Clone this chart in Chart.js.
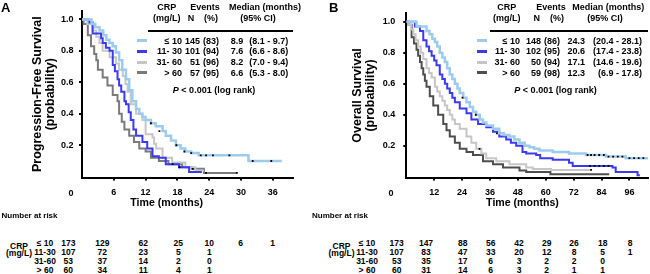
<!DOCTYPE html>
<html>
<head>
<meta charset="utf-8">
<script src="https://cdn.jsdelivr.net/npm/chart.js@4"></script>
<style>
body { margin:0; background:#fff; }
#page { position:relative; width:650px; height:274px; overflow:hidden; font-family:Arial, "Liberation Sans", sans-serif; font-weight:bold; color:#000; }
.t { position:absolute; white-space:nowrap; line-height:1; }
canvas { position:absolute; top:0; }
</style>
</head>
<body>
<div id="page">
<canvas id="_pfs" width="300" height="200" style="left:0"></canvas>
<canvas id="_os" width="330" height="200" style="left:320px"></canvas>
</div>
<script>
// groups / legend stats
var groups = ['≤ 10', '11- 30', '31- 60', '> 60'];
var riskGroups = ['≤ 10', '11-30', '31-60', '> 60'];
var colorsA = ['#9dcbef', '#3a3af2', '#c6c6c6', '#7a7a7a'];
var colorsB = ['#9dcbef', '#3a3af2', '#c6c6c6', '#4e4e4e'];

var pfsN = [145, 101, 51, 57];
var pfsPct = [83, 94, 96, 95];
var pfsMedian = ['8.9', '7.6', '8.2', '6.6'];
var pfsCI = ['(8.1 - 9.7)', '(6.6 - 8.6)', '(7.0 - 9.4)', '(5.3 - 8.0)'];
var osN = [148, 102, 50, 59];
var osPct = [86, 95, 94, 98];
var osMedian = ['24.3', '20.6', '17.1', '12.3'];
var osCI = ['(20.4 - 28.1)', '(17.4 - 23.8)', '(14.6 - 19.6)', '(6.9 - 17.8)'];

// number at risk
var pfsRiskTimes = [0, 6, 12, 18, 24, 30, 36];
var pfsRisk1 = [173, 129, 62, 25, 10, 6, 1];
var pfsRisk2 = [107, 72, 23, 5, 1];
var pfsRisk3 = [53, 37, 14, 2, 0];
var pfsRisk4 = [60, 34, 11, 4, 1];
var osRiskTimes = [0, 12, 24, 36, 48, 60, 72, 84, 96];
var osRisk1 = [173, 147, 88, 56, 42, 29, 26, 18, 8];
var osRisk2 = [107, 83, 47, 33, 20, 12, 8, 5, 1];
var osRisk3 = [53, 35, 17, 6, 3, 2, 2, 0];
var osRisk4 = [60, 31, 14, 6, 3, 2, 1, 1];

// PFS curves (months, survival)
var pfsT1 = [0, 1.8, 2.5, 3.3, 4.0, 4.6, 5.2, 5.8, 6.4, 7.0, 7.6, 8.3, 8.9, 9.5, 10.2, 10.8, 11.4, 12.0, 13.0, 13.9, 15.2, 15.8, 16.8, 17.7, 18.6, 19.5, 20.6, 22.0, 31.4, 37.7];
var pfsS1 = [1, 0.97, 0.95, 0.93, 0.90, 0.87, 0.85, 0.83, 0.79, 0.74, 0.68, 0.62, 0.55, 0.48, 0.43, 0.40, 0.38, 0.36, 0.34, 0.32, 0.29, 0.26, 0.23, 0.20, 0.18, 0.16, 0.15, 0.136, 0.10, 0.10];
var pfsT2 = [0, 1.4, 2.0, 3.6, 3.9, 4.5, 5.2, 5.8, 6.2, 6.7, 7.0, 7.4, 8.0, 8.3, 8.8, 9.2, 9.7, 10.2, 11.4, 12.3, 13.3, 14.5, 15.8, 18.3, 20.2, 22.6];
var pfsS2 = [1, 0.98, 0.91, 0.88, 0.85, 0.82, 0.80, 0.71, 0.67, 0.62, 0.58, 0.54, 0.48, 0.46, 0.41, 0.36, 0.30, 0.26, 0.22, 0.18, 0.13, 0.12, 0.08, 0.06, 0.03, 0.03];
var pfsT3 = [0, 1.0, 2.0, 2.7, 3.3, 3.9, 5.2, 6.4, 7.0, 7.7, 8.2, 8.6, 9.2, 10.2, 11.4, 12.0, 13.3, 13.6, 14.0, 15.2, 17.0, 19.5, 21.4, 23.0];
var pfsS3 = [1, 0.97, 0.93, 0.89, 0.85, 0.80, 0.76, 0.72, 0.68, 0.64, 0.59, 0.54, 0.46, 0.40, 0.36, 0.27, 0.25, 0.21, 0.18, 0.12, 0.09, 0.06, 0.04, 0.04];
var pfsT4 = [0, 0.3, 1.1, 1.7, 2.3, 2.7, 3.0, 3.9, 4.8, 5.8, 6.7, 7.0, 7.5, 8.0, 8.9, 9.8, 10.8, 12.0, 13.0, 14.5, 16.3, 18.9, 20.7, 23.0, 29.2];
var pfsS4 = [1, 0.97, 0.90, 0.83, 0.78, 0.74, 0.68, 0.63, 0.58, 0.52, 0.48, 0.40, 0.35, 0.30, 0.26, 0.22, 0.18, 0.16, 0.12, 0.10, 0.08, 0.06, 0.05, 0.024, 0.024];
// censored marks
var pfsCensT = [13.0, 14.6, 17.8, 19.3, 20.6, 22.4, 23.4, 24.7, 27.8, 32.2, 35.7, 17.1, 18.4, 20.9, 23.4, 29.2];
var pfsCensS = [0.34, 0.29, 0.20, 0.16, 0.15, 0.136, 0.136, 0.136, 0.136, 0.10, 0.10, 0.08, 0.06, 0.05, 0.024, 0.024];

// OS curves
var osT1 = [0, 4.4, 8.7, 10.0, 11.2, 12.3, 13.3, 14.4, 15.5, 16.6, 17.6, 18.7, 19.8, 20.9, 22.0, 23.0, 24.5, 25.9, 27.3, 28.7, 30.1, 31.6, 33.0, 34.4, 37.3, 40.0, 42.0, 44.4, 46.5, 48.7, 51.0, 53.0, 55.0, 57.3, 63.0, 70.0, 77.3, 85.9, 94.4, 104.0];
var osS1 = [1, 0.97, 0.94, 0.92, 0.89, 0.87, 0.84, 0.80, 0.77, 0.74, 0.70, 0.66, 0.63, 0.60, 0.57, 0.54, 0.51, 0.48, 0.45, 0.42, 0.40, 0.37, 0.35, 0.33, 0.31, 0.28, 0.27, 0.26, 0.24, 0.22, 0.20, 0.19, 0.18, 0.17, 0.16, 0.15, 0.14, 0.13, 0.12, 0.12];
var osT2 = [0, 3.7, 5.9, 7.3, 8.7, 9.8, 10.9, 12.0, 13.0, 14.4, 15.5, 16.6, 17.6, 18.7, 19.8, 20.9, 23.0, 25.9, 28.0, 30.9, 34.4, 37.3, 40.0, 43.0, 45.0, 47.3, 50.0, 51.6, 55.9, 57.6, 63.0, 70.0, 71.6, 78.7, 88.7, 90.1, 99.5, 100.5];
var osS2 = [1, 0.97, 0.94, 0.88, 0.84, 0.81, 0.78, 0.75, 0.72, 0.66, 0.63, 0.60, 0.57, 0.54, 0.51, 0.48, 0.44, 0.41, 0.37, 0.34, 0.32, 0.29, 0.26, 0.24, 0.22, 0.20, 0.16, 0.15, 0.14, 0.12, 0.11, 0.09, 0.07, 0.07, 0.06, 0.03, 0.01, 0.01];
var osT3 = [0, 0.9, 2.0, 3.0, 4.0, 5.1, 6.2, 7.3, 8.7, 9.8, 10.9, 12.3, 13.3, 14.4, 15.5, 16.6, 17.6, 18.7, 19.8, 20.9, 23.0, 25.9, 28.0, 30.1, 32.3, 34.4, 38.7, 44.4, 51.6, 54.4, 62.3, 79.0];
var osS3 = [1, 0.98, 0.95, 0.92, 0.88, 0.84, 0.80, 0.76, 0.70, 0.67, 0.64, 0.58, 0.55, 0.52, 0.49, 0.46, 0.43, 0.40, 0.37, 0.34, 0.31, 0.26, 0.22, 0.18, 0.15, 0.12, 0.10, 0.08, 0.06, 0.05, 0.044, 0.044];
var osT4 = [0, 0.9, 2.3, 3.3, 4.4, 5.1, 5.9, 6.6, 7.3, 8.0, 8.7, 10.1, 11.6, 13.7, 15.9, 17.3, 18.7, 20.9, 23.0, 25.9, 28.7, 33.0, 37.3, 41.6, 48.7, 51.6, 54.4, 62.0, 87.3];
var osS4 = [1, 0.98, 0.90, 0.86, 0.82, 0.78, 0.74, 0.70, 0.66, 0.62, 0.58, 0.52, 0.46, 0.40, 0.34, 0.30, 0.26, 0.22, 0.18, 0.16, 0.14, 0.10, 0.08, 0.06, 0.04, 0.03, 0.03, 0.016, 0.016];
var osCensT = [24.2, 29.9, 39.0, 31.5, 78, 79.5, 81, 83, 85, 87, 89, 91, 93, 96, 98, 100, 102, 79, 81, 83, 85, 87, 79.5];
var osCensS = [0.51, 0.40, 0.28, 0.18, 0.14, 0.14, 0.14, 0.14, 0.14, 0.13, 0.13, 0.13, 0.13, 0.12, 0.12, 0.12, 0.12, 0.07, 0.07, 0.07, 0.07, 0.07, 0.044];

var FONT = 'Arial, "Liberation Sans", sans-serif';
Chart.defaults.font.family = FONT;
Chart.defaults.color = '#000';

var page = document.getElementById('page');
function put(txt, x, y, size, align, html) {
	var d = document.createElement('div');
	d.className = 't';
	if (html) d.innerHTML = txt; else d.textContent = txt;
	d.style.left = x + 'px';
	d.style.top = y + 'px';
	d.style.fontSize = size + 'px';
	var tx = align == 'c' ? '-50%' : align == 'r' ? '-100%' : '0';
	d.style.transform = 'translate(' + tx + ',-50%)';
	page.appendChild(d);
}
function bar(x, y, w, h, color) {
	var d = document.createElement('div');
	d.style.cssText = 'position:absolute;left:' + x + 'px;top:' + y + 'px;width:' + w + 'px;height:' + h + 'px;background:' + color;
	page.appendChild(d);
}
function pts(ts, ss) { return ts.map((t, i) => ({x: t, y: ss[i]})); }

function km(canvas, curves, colors, cens, o) {
	var datasets = [{
		data: cens,
		showLine: false,
		pointStyle: 'rect',
		pointRadius: 1.3,
		pointBackgroundColor: '#000',
		pointBorderWidth: 0,
	}];
	curves.forEach((c, i) => datasets.push({
		data: c,
		borderColor: colors[i],
		borderWidth: i == 0 ? 2.5 : 2,
		stepped: true,
		pointRadius: 0,
		fill: false,
	}));
	var tickFont = {size: 9, weight: 'bold', family: FONT};
	return new Chart(canvas, {
		type: 'line',
		data: {datasets},
		options: {
			responsive: false,
			animation: false,
			layout: {autoPadding: false, padding: {left: 0, top: 2, right: o.right, bottom: 0}},
			scales: {
				x: {
					type: 'linear', min: 0, max: o.xmax,
					afterFit: s => { s.height = 22.5; },
					afterBuildTicks: s => { s.ticks = s.ticks.filter(t => t.value > 0); },
					ticks: {stepSize: o.step, includeBounds: false, padding: 7, maxRotation: 0, autoSkip: false, font: tickFont, color: '#000'},
					grid: {drawOnChartArea: false, tickLength: 3, color: '#000', lineWidth: 2},
					border: {color: '#000', width: 2},
				},
				y: {
					type: 'linear', min: -0.005, max: 1.054,
					afterFit: s => { s.width = o.yw; },
					afterBuildTicks: s => { s.ticks = s.ticks.filter(t => t.value > 0.1); },
					ticks: {stepSize: 0.2, includeBounds: false, padding: o.ypad, font: tickFont, color: '#000', callback: v => v.toFixed(1)},
					grid: {drawOnChartArea: false, tickLength: 3, color: '#000', lineWidth: 2},
					border: {color: '#000', width: 2},
					title: {display: true, text: o.ytitle, color: '#000', font: {size: 12.5, weight: 'bold', lineHeight: 1.065, family: FONT}, padding: {top: 30.8, bottom: 0}},
				}
			},
			plugins: {legend: {display: false}, tooltip: {enabled: false}}
		}
	});
}

var chartA = km(_pfs,
	[pts(pfsT1, pfsS1), pts(pfsT2, pfsS2), pts(pfsT3, pfsS3), pts(pfsT4, pfsS4)],
	colorsA, pts(pfsCensT, pfsCensS),
	{xmax: 39.8, step: 6, yw: 82, ypad: 5.5, right: 7, ytitle: ['Progression-Free Survival', '(probability)']});
var chartB = km(_os,
	[pts(osT1, osS1), pts(osT2, osS2), pts(osT3, osS3), pts(osT4, osS4)],
	colorsB, pts(osCensT, osCensS),
	{xmax: 104, step: 12, yw: 86.3, ypad: 8, right: 2, ytitle: ['Overall Survival', '(probability)']});

// legend tables inside the plots
function legendTable(L, colors, N, pct, med, ci) {
	put('CRP', L.crp, 7.3, 9, 'c');
	put('(mg/L)', L.crp, 18.3, 9, 'c');
	put('Events', L.events, 7.3, 9, 'c');
	put('N', L.n, 18.3, 9, 'c');
	put('(%)', L.pct, 18.3, 9, 'c');
	put('Median (months)', L.med, 7.3, 9, 'c');
	put('(95% CI)', L.ci95, 18.3, 9, 'c');
	bar(L.ruleX, 29.7, L.ruleW, 2, '#000');
	groups.forEach((g, i) => {
		var y = 40.7 + i * 10.7;
		bar(L.swX, y - 1.5, 10, 3, colors[i]);
		put(g, L.lab, y, 9, 'r');
		put(String(N[i]), L.nR, y, 9, 'r');
		put('(' + pct[i] + ')', L.pctL, y, 9, 'l');
		put(med[i], L.medR, y, 9, 'r');
		put(ci[i], L.ciR, y, 9, 'r');
	});
	put('<i>P</i> &lt; 0.001 (log rank)', L.pX, 90, 9, 'c', true);
}
legendTable({crp: 166.7, events: 205, n: 191, pct: 211, med: 265, ci95: 258, ruleX: 148, ruleW: 145, swX: 137, lab: 182, nR: 200, pctL: 203, medR: 243.3, ciR: 288.3, pX: 214},
	colorsA, pfsN, pfsPct, pfsMedian, pfsCI);
legendTable({crp: 506.7, events: 551, n: 536.7, pct: 557, med: 608.3, ci95: 605, ruleX: 490, ruleW: 158, swX: 476.7, lab: 520, nR: 541, pctL: 544, medR: 585, ciR: 642, pX: 555.5},
	colorsB, osN, osPct, osMedian, osCI);

// panel letters, zero labels, x titles
put('A', 1, 7, 13, 'l');
put('B', 329, 7, 13, 'l');
put('0', 71, 193.3, 9, 'c');
put('0', 391, 193.3, 9, 'c');
put('Time (months)', 166.7, 202, 10.6, 'c');
put('Time (months)', 522.5, 202, 10.6, 'c');

// number at risk tables
function riskTable(R, rows) {
	put('Number at risk', R.numX, 215.7, 8, 'l');
	put('CRP', R.crpX, 246, 8.5, 'c');
	put('(mg/L)', R.crpX, 253.3, 8.5, 'c');
	rows.forEach((r, i) => {
		var y = 242.5 + i * 9;
		put(riskGroups[i], R.labX, y, 8.5, 'c');
		r.forEach((v, j) => put(String(v), R.cols[j], y, 8.5, 'c'));
	});
}
riskTable({numX: 1.5, crpX: 19, labX: 45, cols: [68.3, 102.3, 143.3, 178.3, 209.3, 240.7, 272.7]},
	[pfsRisk1, pfsRisk2, pfsRisk3, pfsRisk4]);
riskTable({numX: 312, crpX: 341.5, labX: 367, cols: [396.7, 426, 462.7, 490.7, 519, 546.7, 574, 602.7, 630]},
	[osRisk1, osRisk2, osRisk3, osRisk4]);
</script>
</body>
</html>
